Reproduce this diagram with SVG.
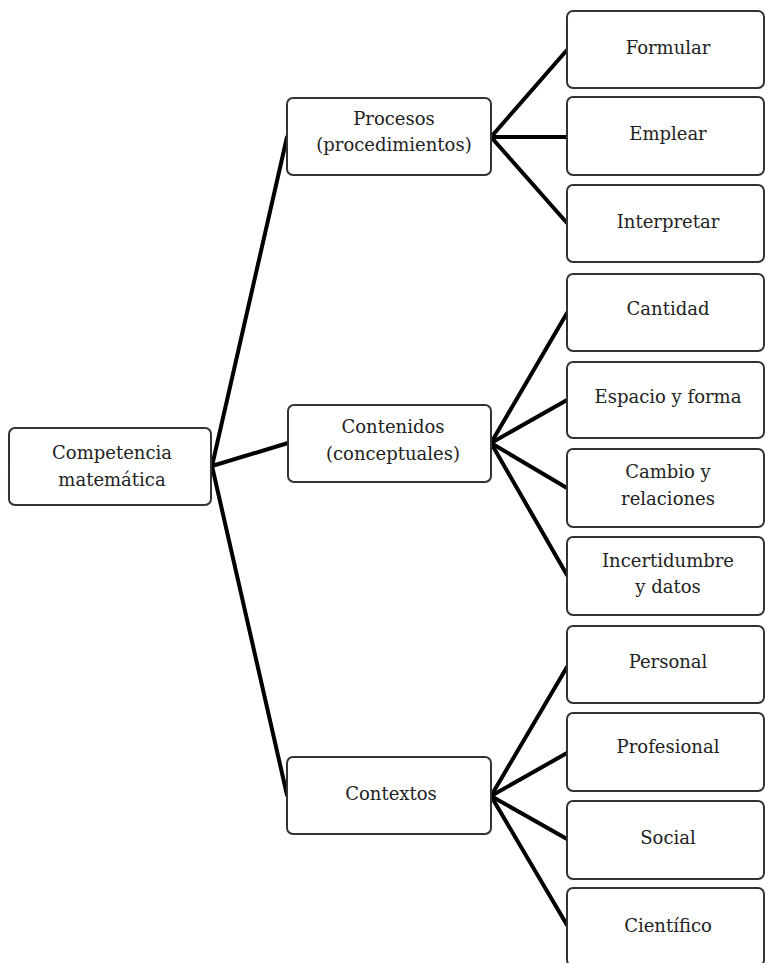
<svg xmlns="http://www.w3.org/2000/svg" width="765" height="963" viewBox="0 0 765 963">
<style>
.box{fill:#fff;stroke:#333;stroke-width:2}
.t{font-family:"DejaVu Serif","Liberation Serif",serif;font-size:18px;fill:#222;text-anchor:middle}
.c{stroke:#000;stroke-width:4;fill:none;stroke-linecap:round}
</style>
<rect width="765" height="963" fill="#fff"/>
<g id="connectors">
<line class="c" x1="212" y1="466" x2="287" y2="137"/>
<line class="c" x1="212" y1="466" x2="288" y2="443"/>
<line class="c" x1="212" y1="466" x2="287" y2="795"/>
<line class="c" x1="491" y1="137" x2="567" y2="50"/>
<line class="c" x1="491" y1="137" x2="567" y2="137"/>
<line class="c" x1="491" y1="137" x2="567" y2="223"/>
<line class="c" x1="491" y1="443" x2="567" y2="313"/>
<line class="c" x1="491" y1="443" x2="567" y2="400"/>
<line class="c" x1="491" y1="443" x2="567" y2="488"/>
<line class="c" x1="491" y1="443" x2="567" y2="575"/>
<line class="c" x1="491" y1="796" x2="567" y2="667"/>
<line class="c" x1="491" y1="796" x2="567" y2="753"/>
<line class="c" x1="491" y1="796" x2="567" y2="839"/>
<line class="c" x1="491" y1="796" x2="567" y2="925"/>
</g>
<g id="root"><rect class="box" x="9" y="428" width="202" height="77" rx="6"/><text class="t" x="112" y="459">Competencia</text><text class="t" x="112" y="486">matemática</text></g>
<g id="procesos"><rect class="box" x="287" y="98" width="204" height="77" rx="6"/><text class="t" x="394" y="125">Procesos</text><text class="t" x="394" y="151">(procedimientos)</text></g>
<g id="contenidos"><rect class="box" x="288" y="405" width="203" height="77" rx="6"/><text class="t" x="393" y="433">Contenidos</text><text class="t" x="393" y="460">(conceptuales)</text></g>
<g id="contextos"><rect class="box" x="287" y="757" width="204" height="77" rx="6"/><text class="t" x="391" y="800">Contextos</text></g>
<g id="formular"><rect class="box" x="567" y="11" width="197" height="77" rx="6"/><text class="t" x="668" y="54">Formular</text></g>
<g id="emplear"><rect class="box" x="567" y="97" width="197" height="78" rx="6"/><text class="t" x="668" y="140">Emplear</text></g>
<g id="interpretar"><rect class="box" x="567" y="185" width="197" height="77" rx="6"/><text class="t" x="668" y="228">Interpretar</text></g>
<g id="cantidad"><rect class="box" x="567" y="274" width="197" height="77" rx="6"/><text class="t" x="668" y="315">Cantidad</text></g>
<g id="espacio"><rect class="box" x="567" y="362" width="197" height="76" rx="6"/><text class="t" x="668" y="403">Espacio y forma</text></g>
<g id="cambio"><rect class="box" x="567" y="449" width="197" height="78" rx="6"/><text class="t" x="668" y="478">Cambio y</text><text class="t" x="668" y="505">relaciones</text></g>
<g id="incertidumbre"><rect class="box" x="567" y="537" width="197" height="78" rx="6"/><text class="t" x="668" y="567">Incertidumbre</text><text class="t" x="668" y="593">y datos</text></g>
<g id="personal"><rect class="box" x="567" y="626" width="197" height="77" rx="6"/><text class="t" x="668" y="668">Personal</text></g>
<g id="profesional"><rect class="box" x="567" y="713" width="197" height="78" rx="6"/><text class="t" x="668" y="753">Profesional</text></g>
<g id="social"><rect class="box" x="567" y="801" width="197" height="78" rx="6"/><text class="t" x="668" y="844">Social</text></g>
<g id="cientifico"><rect class="box" x="567" y="888" width="197" height="78" rx="6"/><text class="t" x="668" y="932">Científico</text></g>
</svg>
